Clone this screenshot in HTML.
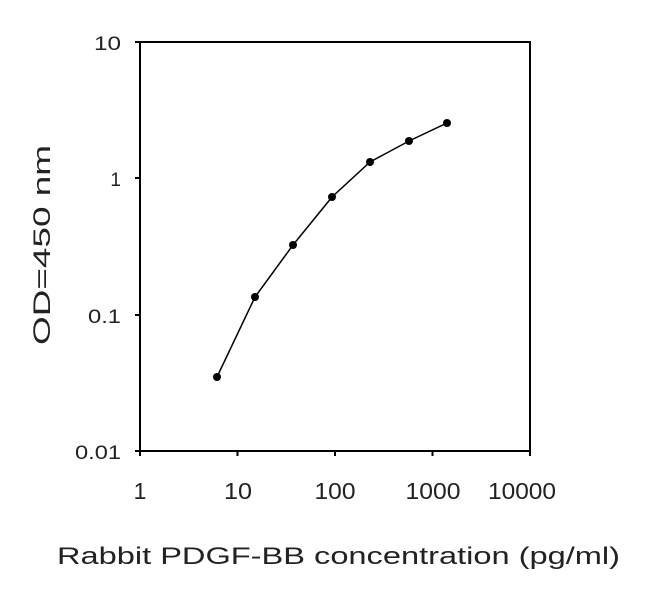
<!DOCTYPE html>
<html><head><meta charset="utf-8"><style>
body{margin:0;background:#fff;}
svg{display:block;font-family:"Liberation Sans",Arial,sans-serif;}
</style></head><body>
<svg width="650" height="592" viewBox="0 0 650 592" xmlns="http://www.w3.org/2000/svg">
<rect x="140" y="42" width="390" height="409" fill="none" stroke="#000" stroke-width="2"/>
<g stroke="#000" stroke-width="2">
<line x1="135" y1="178" x2="140" y2="178"/>
<line x1="135" y1="315" x2="140" y2="315"/>
<line x1="135" y1="451" x2="140" y2="451"/>
<line x1="135" y1="42" x2="140" y2="42"/>
<line x1="140" y1="451" x2="140" y2="456"/>
<line x1="237.5" y1="451" x2="237.5" y2="456"/>
<line x1="335" y1="451" x2="335" y2="456"/>
<line x1="432.5" y1="451" x2="432.5" y2="456"/>
<line x1="530" y1="451" x2="530" y2="456"/>
</g>
<g font-size="19" text-anchor="end" fill="#222">
<text x="121" y="50" textLength="27" lengthAdjust="spacingAndGlyphs">10</text>
<text x="121" y="186">1</text>
<text x="121" y="323" textLength="33" lengthAdjust="spacingAndGlyphs">0.1</text>
<text x="121" y="459" textLength="46" lengthAdjust="spacingAndGlyphs">0.01</text>
</g>
<g font-size="23" text-anchor="middle" fill="#222">
<text x="140" y="499">1</text>
<text x="238" y="499" textLength="28" lengthAdjust="spacingAndGlyphs">10</text>
<text x="335" y="499" textLength="41" lengthAdjust="spacingAndGlyphs">100</text>
<text x="433" y="499" textLength="55" lengthAdjust="spacingAndGlyphs">1000</text>
<text x="522" y="499" textLength="68" lengthAdjust="spacingAndGlyphs">10000</text>
</g>
<text x="57" y="564" font-size="24" fill="#222" textLength="563" lengthAdjust="spacingAndGlyphs">Rabbit PDGF-BB concentration (pg/ml)</text>
<text transform="translate(50,245) rotate(-90)" font-size="24" text-anchor="middle" fill="#222" textLength="200" lengthAdjust="spacingAndGlyphs">OD=450 nm</text>
<polyline fill="none" stroke="#000" stroke-width="1.5" points="217,377 255,297 293,245 332,197 370,162 409,141 447,123"/>
<g fill="#000">
<circle cx="217" cy="377" r="4"/><circle cx="255" cy="297" r="4"/><circle cx="293" cy="245" r="4"/><circle cx="332" cy="197" r="4"/><circle cx="370" cy="162" r="4"/><circle cx="409" cy="141" r="4"/><circle cx="447" cy="123" r="4"/>
</g>
</svg>
</body></html>
